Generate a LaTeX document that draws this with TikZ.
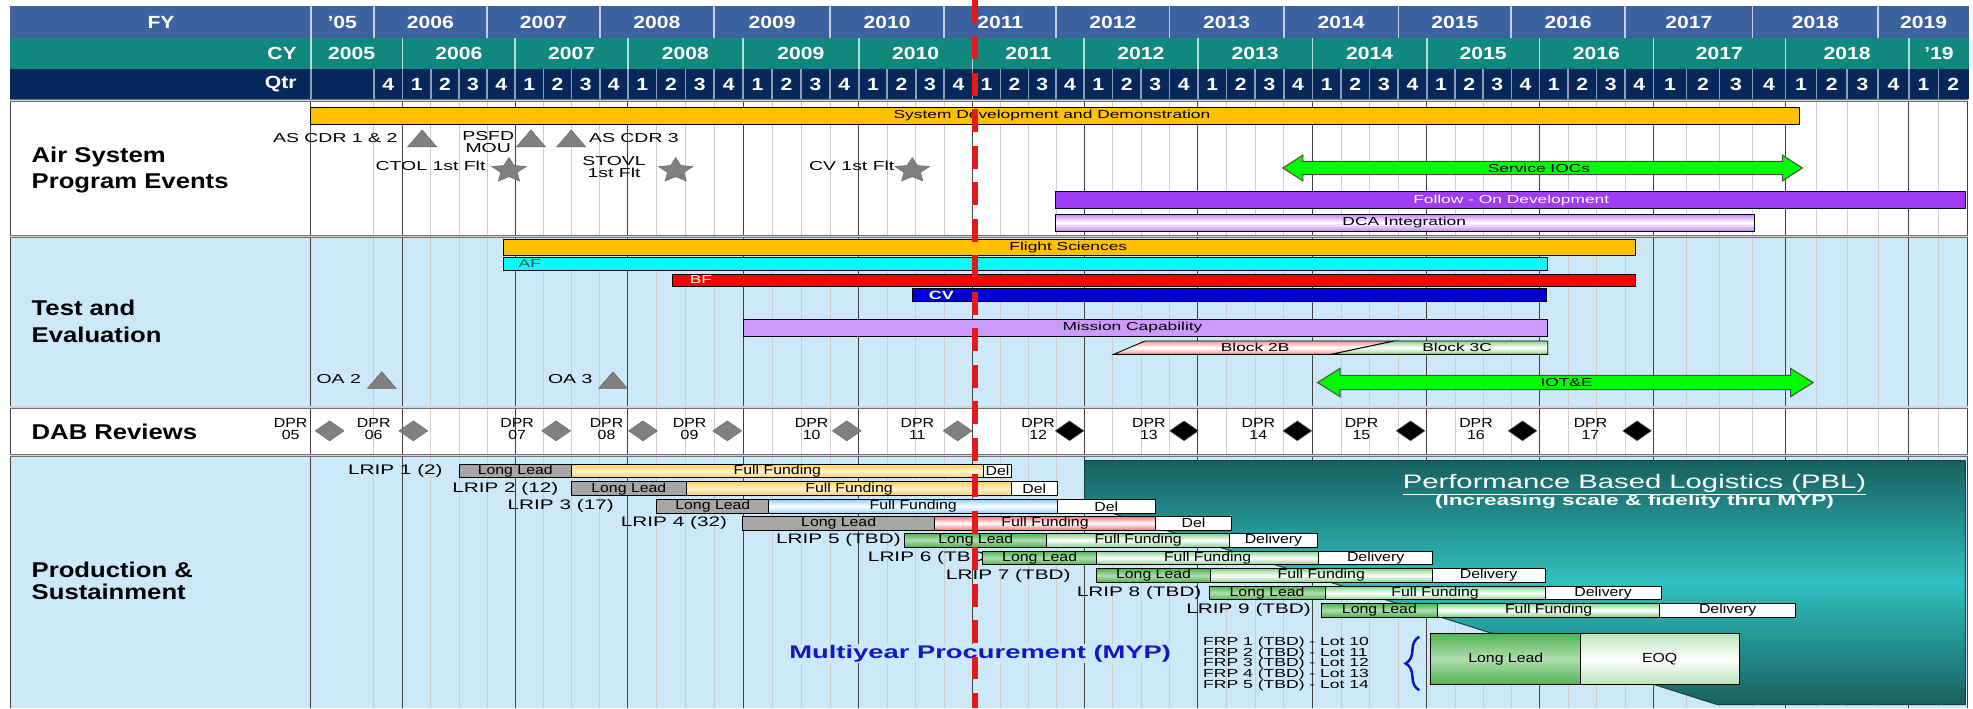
\documentclass[tikz,border=0pt]{standalone}
\usepackage{fontspec}
\setmainfont{Liberation Sans}[FakeStretch=1.2]
\newfontfamily\widefont{Liberation Sans}[FakeStretch=1.5]
\usetikzlibrary{positioning,shapes.geometric,decorations.pathreplacing}

\definecolor{fyblue}{RGB}{60,98,160}
\definecolor{cyteal}{RGB}{16,136,126}
\definecolor{qtrnavy}{RGB}{8,40,92}
\definecolor{skybg}{RGB}{205,233,249}
\definecolor{sddorange}{RGB}{255,192,0}
\definecolor{afcyan}{RGB}{0,255,255}
\definecolor{bfred}{RGB}{255,0,0}
\definecolor{cvblue}{RGB}{0,0,210}
\definecolor{mclav}{RGB}{204,153,255}
\definecolor{fodpurple}{RGB}{160,60,245}
\definecolor{iocgreen}{RGB}{0,250,0}
\definecolor{mypblue}{RGB}{20,20,200}
\definecolor{pbldark}{RGB}{24,96,96}
\definecolor{pbllight}{RGB}{48,192,192}
\definecolor{pbledge}{RGB}{16,70,70}
\definecolor{nowred}{RGB}{230,25,25}
\definecolor{ldgreen}{RGB}{80,180,80}
\definecolor{ffyel}{RGB}{255,210,100}
\definecolor{ffblu}{RGB}{150,210,250}
\definecolor{ffred}{RGB}{245,120,120}
\definecolor{ffgrn}{RGB}{140,210,140}
\definecolor{blkpink}{RGB}{245,150,150}
\definecolor{blkgreen}{RGB}{140,210,140}

\tikzset{
  hdr/.style={text=white,inner sep=0pt,font=\bfseries\fontsize{14}{14}\selectfont},
  fysep/.style={draw=white!70!fyblue,line width=1.3pt},
  cysep/.style={draw=white!70!cyteal,line width=1.3pt},
  qsep/.style={draw=white!55!qtrnavy,line width=1.3pt},
  qline/.style={draw=gray!40,line width=0.5pt},
  yline/.style={draw=black!75,line width=0.8pt},
  secline/.style={draw=black!55,double=gray!35,double distance=1pt,line width=0.7pt},
  seclab/.style={anchor=west,align=left,inner sep=0pt,font=\bfseries\fontsize{17}{21}\selectfont},
  tag/.style={inner sep=0pt,font=\widefont\fontsize{9.2}{9.2}\selectfont},
  evtag/.style={inner sep=0pt,align=center,font=\widefont\fontsize{10.3}{9.5}\selectfont},
  barbox/.style={draw=black,line width=0.7pt},
  tri/.style={regular polygon,regular polygon sides=3,minimum size=26.6pt,inner sep=0pt,yscale=0.667,fill=gray,draw=black!60},
  star5/.style={star,star points=5,star point ratio=2.1,minimum size=20.6pt,inner sep=0pt,xscale=1.4,fill=gray,draw=black!60},
  dpr/.style={diamond,minimum width=23pt,minimum height=16pt,inner sep=0pt,draw=black!60},
  dprtag/.style={inner sep=0pt,align=center,font=\fontsize{10.5}{9.5}\selectfont},
  lriptag/.style={anchor=east,inner sep=0pt,font=\widefont\fontsize{11}{11}\selectfont},
  lrtag/.style={inner sep=0pt,font=\fontsize{10.5}{10.5}\selectfont},
  leadgrey/.style={barbox,fill=gray!70},
  leadgreen/.style={barbox,top color=ldgreen,bottom color=ldgreen,middle color=ldgreen!45},
  fundyellow/.style={barbox,top color=ffyel,bottom color=ffyel,middle color=ffyel!30},
  fundblue/.style={barbox,top color=ffblu,bottom color=ffblu,middle color=white},
  fundred/.style={barbox,top color=ffred,bottom color=ffred,middle color=white},
  fundgreen/.style={barbox,top color=ffgrn,bottom color=ffgrn,middle color=white},
  delbox/.style={barbox,fill=white},
  arrowbar/.style={draw=black!70,line width=0.8pt,fill=iocgreen},
  pbltitle/.style={text=white,inner sep=0pt,font=\widefont\fontsize{15.5}{15.5}\selectfont},
  pblsub/.style={text=white,inner sep=0pt,font=\widefont\bfseries\fontsize{12}{12}\selectfont},
  myptag/.style={text=mypblue,fill=skybg,inner sep=1pt,font=\widefont\bfseries\fontsize{14.5}{14.5}\selectfont},
  frptag/.style={anchor=west,inner sep=0pt,font=\widefont\fontsize{9.3}{9.3}\selectfont},
  nowline/.style={draw=nowred,line width=5pt,dash pattern=on 18pt off 11pt}
}

\begin{document}
\begin{tikzpicture}[x=1pt,y=-1pt]
  \useasboundingbox (0,0) rectangle (1568,563);
  \def\yrs{320/409.5,409.5/499,499/590.5,590.5/682.5,682.5/773,773/861.5,861.5/952,952/1043,1043/1134,1134/1223.5,1223.5/1314,1314/1419,1419/1517}

  % header rows
  \fill[fyblue](8,5)rectangle(1565,30);
  \fill[cyteal](8,30)rectangle(1565,55);
  \fill[qtrnavy](8,55)rectangle(1565,79);
  \node[hdr] (fy) at (128,17.5) {FY};
  \node[hdr,anchor=east] (cy) at (236,42.5) {CY};
  \node[hdr,anchor=east] (qtr) at (236,67) {Qtr};
  \foreach \lab/\a/\b in {'05/247/297,2006/297/387,2007/387/476.6,2008/476.6/567.6,2009/567.6/659.5,2010/659.5/750.4,2011/750.4/839.4,2012/839.4/929.4,2013/929.4/1020.3,2014/1020.3/1111.3,2015/1111.3/1201,2016/1201/1291.4,2017/1291.4/1392.8,2018/1392.8/1492.5,2019/1492.5/1565}{
    \draw[fysep](\a,5)--(\a,30);
    \node[hdr] at ({(\a+\b)/2},17.5) {\lab};
  }
  \foreach \lab/\a/\b in {2005/247/312,2006/320/409.5,2007/409.5/499,2008/499/590.5,2009/590.5/682.5,2010/682.5/773,2011/773/861.5,2012/861.5/952,2013/952/1043,2014/1043/1134,2015/1134/1223.5,2016/1223.5/1314,2017/1314/1419,2018/1419/1517,'19/1517/1565}{
    \draw[cysep](\a,30)--(\a,55);
    \node[hdr] at ({(\a+\b)/2},42.5) {\lab};
  }
  \draw[cysep](320,30)--(320,55);
  \draw[qsep](247,55)--(247,79);
  \draw[qsep](297,55)--(297,79);
  \node[hdr] at (308.5,67) {4};
  \foreach \a/\b in \yrs{
    \foreach \q in {1,...,4}{
      \draw[qsep]({\a+(\q-1)*(\b-\a)/4},55)--({\a+(\q-1)*(\b-\a)/4},79);
      \node[hdr] at ({\a+(\q-0.5)*(\b-\a)/4},67) {\q};
    }
  }
  \draw[qsep](1517,55)--(1517,79);
  \draw[qsep](1540.5,55)--(1540.5,79);
  \node[hdr] at (1528.7,67) {1};
  \node[hdr] at (1552.3,67) {2};

  % section backgrounds and grid
  \fill[white](8,80)rectangle(1564,188);
  \fill[skybg](8,188)rectangle(1564,323.5);
  \fill[white](8,323.5)rectangle(1564,362);
  \fill[skybg](8,362)rectangle(1564,563);
  \foreach \a/\b in \yrs{
    \foreach \q in {1,2,3}\draw[qline]({\a+\q*(\b-\a)/4},80)--({\a+\q*(\b-\a)/4},563);
    \draw[yline](\a,80)--(\a,563);
  }
  \draw[qline](297,80)--(297,563);
  \draw[qline](1540.5,80)--(1540.5,563);
  \draw[yline](1517,80)--(1517,563);
  \draw[yline](8,80)--(8,563);
  \draw[yline](247,80)--(247,563);
  \draw[yline](1564,80)--(1564,563);
  \foreach \y in {80,188,323.5,362}\draw[secline](8,\y)--(1564,\y);

  \node[seclab] (air) at (25,135) {Air System\\Program Events};
  \node[seclab] (te) at (25,255.5) {Test and\\Evaluation};
  \node[seclab] (dab) at (25,343) {DAB Reviews};
  \node[seclab] (prod) at (25,461.5) {Production \&\\[-3pt]Sustainment};

  % air system program events
  \draw[barbox,fill=sddorange](247,85)rectangle(1430,98.5);
  \node[tag] (sdd) at (836,91.8) {System Development and Demonstration};
  \node[tri] (cdr12) at (335.5,112.2) {};
  \node[evtag,anchor=east] at (316,110) {AS CDR 1 \& 2};
  \node[tri] (psfd) at (422,112.2) {};
  \node[evtag] at (388,113) {PSFD\\MOU};
  \node[tri] (cdr3) at (454,112.2) {};
  \node[evtag,anchor=west] at (468,110) {AS CDR 3};
  \node[star5] (ctol) at (404.5,135.5) {};
  \node[evtag,anchor=east] at (386,131.7) {CTOL 1st Flt};
  \node[star5] (stovl) at (537,135.5) {};
  \node[evtag] at (488,133) {STOVL\\1st Flt};
  \node[star5] (cvflt) at (725,135.5) {};
  \node[evtag,anchor=east] at (711,131.7) {CV 1st Flt};
  \draw[arrowbar](1019.5,133.5)--(1035.5,123.2)--(1035.5,128.2)--(1416.5,128.2)--(1416.5,123.2)--(1432.5,133.5)--(1416.5,143.8)--(1416.5,138.8)--(1035.5,138.8)--(1035.5,143.8)--cycle;
  \node[tag] (ioc) at (1223,133.5) {Service IOCs};
  \draw[barbox,fill=fodpurple](838.5,152.3)rectangle(1562,165.6);
  \node[tag,text=white] (fod) at (1201,159) {Follow - On Development};
  \draw[barbox,top color=mclav!80!fodpurple,bottom color=mclav!80!fodpurple,middle color=white](838.5,170.1)rectangle(1394.4,183.6);
  \node[tag] (dca) at (1116,176.8) {DCA Integration};

  % test and evaluation
  \draw[barbox,fill=sddorange](400.4,190.2)rectangle(1299.7,203.2);
  \node[tag] (fs) at (849,196.7) {Flight Sciences};
  \draw[barbox,fill=afcyan](400.4,204.5)rectangle(1229.7,215.1);
  \node[tag,anchor=west,text=black!70] (af) at (412,209.8) {AF};
  \draw[barbox,fill=bfred](534.7,217.8)rectangle(1299.7,227.3);
  \node[tag,anchor=west,text=white] (bf) at (548,222.5) {BF};
  \draw[barbox,fill=cvblue](724.8,229.4)rectangle(1228.7,239.8);
  \node[tag,anchor=west,text=white,font=\widefont\bfseries\fontsize{9.5}{9.5}\selectfont] (cv) at (738,234.6) {CV};
  \draw[barbox,fill=mclav](590.5,253.8)rectangle(1229.7,267);
  \node[tag] (mc) at (900,260.4) {Mission Capability};
  \draw[barbox,top color=blkpink,bottom color=blkpink,middle color=white](885,281.6)--(910,271)--(1108,271)--(1058,281.6)--cycle;
  \draw[barbox,top color=blkgreen,bottom color=blkgreen,middle color=white](1058,281.6)--(1108,271)--(1230,271)--(1230,281.6)--cycle;
  \node[tag] (b2b) at (997.5,276.3) {Block 2B};
  \node[tag] (b3c) at (1158,276.3) {Block 3C};
  \draw[arrowbar](1047,304)--(1065,292.7)--(1065,298.3)--(1423,298.3)--(1423,292.7)--(1441,304)--(1423,315.3)--(1423,309.7)--(1065,309.7)--(1065,315.3)--cycle;
  \node[tag] (iote) at (1245,304) {IOT\&E};
  \node[tri] (oa2) at (303.4,304.3) {};
  \node[evtag,anchor=east] at (287,301.5) {OA 2};
  \node[tri] (oa3) at (487.2,304.3) {};
  \node[evtag,anchor=east] at (471,301.5) {OA 3};

  % DAB reviews
  \foreach \n/\tx/\dx/\col in {05/231/262/gray,06/297/328.5/gray,07/411/442/gray,08/482/511/gray,09/548/578/gray,10/645/673/gray,11/729/761/gray,12/825/850/black,13/913/941/black,14/1000/1031/black,15/1082/1121/black,16/1173/1210/black,17/1264/1301/black}{
    \node[dpr,fill=\col] (dpr\n) at (\dx,342.4) {};
    \node[dprtag] at (\tx,341) {DPR\\\n};
  }

  % production and sustainment
  \draw[draw=pbledge,line width=0.8pt,top color=pbldark,bottom color=pbldark,middle color=pbllight](862,366)--(1562,366)--(1562,560)--(1365,560)--(862,401)--cycle;
  \node[pbltitle] (pbl) at (1299,385) {\underline{Performance Based Logistics (PBL)}};
  \node[pblsub] (pblnote) at (1299,399) {(Increasing scale \& fidelity thru MYP)};
  \foreach \lab/\lx/\y/\a/\b/\c/\d/\ld/\fd/\dl in {
    LRIP 1 (2)/352/369/365/454/781.5/804/leadgrey/fundyellow/Del,
    LRIP 2 (12)/444/383/454/545.5/804/840/leadgrey/fundyellow/Del,
    LRIP 3 (17)/488/397/522/611/840.5/918/leadgrey/fundblue/Del,
    LRIP 4 (32)/578/410.5/590/743/918/979/leadgrey/fundred/Del,
    LRIP 5 (TBD)/716/424/719/832/977/1047/leadgreen/fundgreen/Delivery,
    LRIP 6 (TBD)/789/438/781/871.5/1048/1138.5/leadgreen/fundgreen/Delivery,
    LRIP 7 (TBD)/851/452/871.5/962/1138/1228/leadgreen/fundgreen/Delivery,
    LRIP 8 (TBD)/955/466/961/1053/1228/1320/leadgreen/fundgreen/Delivery,
    LRIP 9 (TBD)/1042/479.6/1050/1142.5/1319/1427/leadgreen/fundgreen/Delivery}{
    \node[lriptag] at (\lx,\y+5.35) {\lab};
    \draw[\ld](\a,\y)rectangle(\b,\y+10.7);
    \draw[\fd](\b,\y)rectangle(\c,\y+10.7);
    \draw[delbox](\c,\y)rectangle(\d,\y+10.7);
    \node[lrtag] at ({(\a+\b)/2},\y+5.35) {Long Lead};
    \node[lrtag] at ({(\b+\c)/2},\y+5.35) {Full Funding};
    \node[lrtag] at ({(\c+\d)/2},\y+5.35) {\dl};
  }
  \draw[leadgreen](1137,503.4)rectangle(1256.4,544);
  \draw[barbox,top color=ffgrn!60,bottom color=ffgrn!60,middle color=white](1256.4,503.4)rectangle(1382,544);
  \node[lrtag] (frplead) at (1196.7,523.7) {Long Lead};
  \node[lrtag] (eoq) at (1319,523.7) {EOQ};
  \draw[mypblue,line width=2pt,decorate,decoration={brace,amplitude=11pt}](1128,548.5)--(1128,506);
  \foreach \n/\lot/\y in {1/10/510.5,2/11/519,3/12/527.5,4/13/536,5/14/544.5}
    \node[frptag] at (956,\y) {FRP \n\ (TBD) - Lot \lot};
  \node[myptag] (myp) at (779,519.5) {Multiyear Procurement (MYP)};

  % status date
  \draw[nowline](775,0)--(775,563);
\end{tikzpicture}
\end{document}
